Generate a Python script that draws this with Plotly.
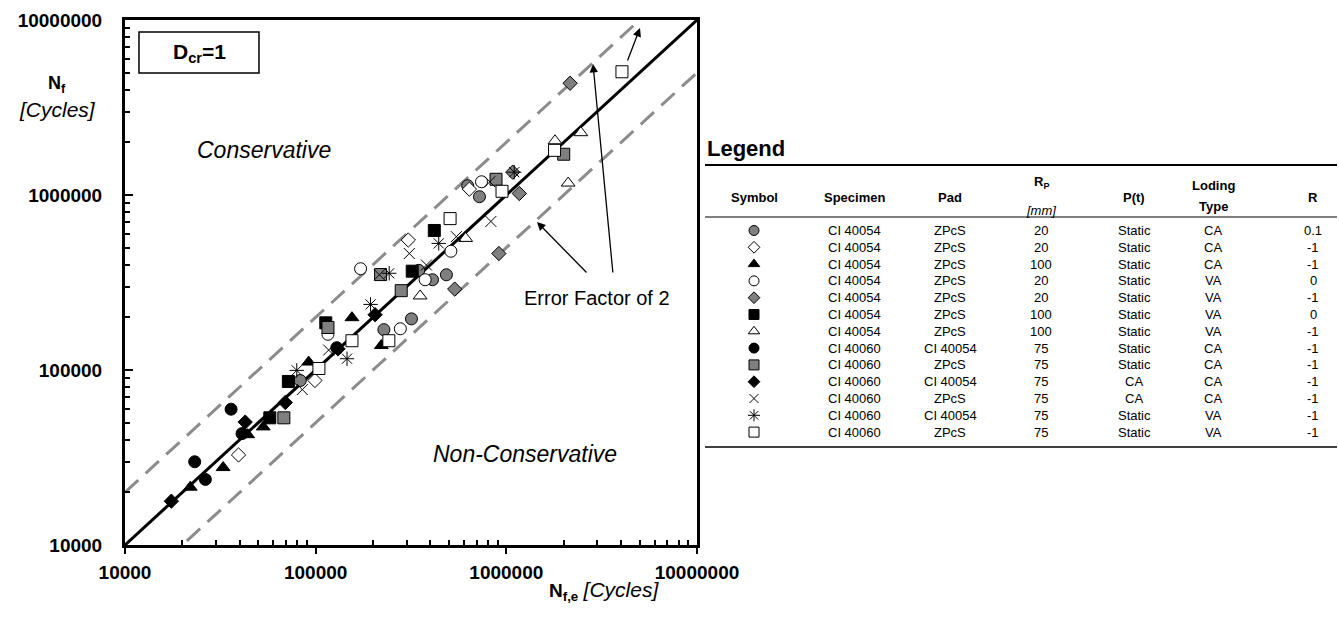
import plotly.graph_objects as go

W, H = 1339, 621
FONT = "Liberation Sans, Arial, sans-serif"

# ---------------- data ----------------
gc_x = [627000, 723000, 347000, 410000, 485000, 228000, 318000, 83000]
gc_y = [1130000, 978000, 371000, 328000, 350000, 170000, 196000, 87100]
od_x = [640000, 306000, 99100, 39400]
od_y = [1080000, 553000, 87100, 32700]
bt_x = [22000, 32700, 53100, 91900, 155000, 221000, 44000]
bt_y = [21400, 27700, 47300, 111000, 199000, 138000, 42700]
oc_x = [172000, 741000, 512000, 375000, 278000, 116000]
oc_y = [379000, 1190000, 477000, 328000, 172000, 160000]
gd_x = [2160000, 1080000, 1170000, 914000, 536000]
gd_y = [4350000, 1350000, 1020000, 463000, 290000]
bs_x = [419000, 321000, 113000, 71900, 57500]
bs_y = [627000, 367000, 186000, 86000, 53300]
ot_x = [2460000, 1800000, 2110000, 612000, 353000]
ot_y = [2270000, 2040000, 1170000, 565000, 265000]
bc_x = [36000, 23200, 26400, 41100, 129000]
bc_y = [59700, 29900, 23700, 43300, 134000]
gs_x = [2000000, 883000, 219000, 281000, 116000, 68100]
gs_y = [1710000, 1230000, 351000, 284000, 175000, 53300]
bd_x = [17500, 42700, 69300, 131000, 205000]
bd_y = [17800, 50400, 65200, 132000, 207000]
xx_x = [830000, 310000, 547000, 381000, 216000, 819000, 117000, 85100]
xx_y = [706000, 463000, 578000, 398000, 350000, 1190000, 130000, 77300]
as_x = [1100000, 442000, 243000, 194000, 146000, 79600]
as_y = [1350000, 529000, 357000, 237000, 116000, 99500]
os_x = [4040000, 1790000, 949000, 507000, 155000, 242000, 104000]
os_y = [5060000, 1800000, 1050000, 733000, 147000, 147000, 102000]

axis_min, axis_max = 1e4, 1e7
error_factor = 2
major_ticks = [1e4, 1e5, 1e6, 1e7]
tick_labels = ["10000", "100000", "1000000", "10000000"]

# legend table
specimen = ["CI 40054"] * 7 + ["CI 40060"] * 6
pad = ["ZPcS"] * 7 + ["CI 40054", "ZPcS", "CI 40054", "ZPcS", "CI 40054", "ZPcS"]
rp = ["20", "20", "100", "20", "20", "100", "100", "75", "75", "75", "75", "75", "75"]
pt = ["Static"] * 9 + ["CA", "CA", "Static", "Static"]
ltype = ["CA", "CA", "CA", "VA", "VA", "VA", "VA", "CA", "CA", "CA", "CA", "VA", "VA"]
rr = ["0.1", "-1", "-1", "0", "-1", "0", "-1", "-1", "-1", "-1", "-1", "-1", "-1"]

GRAY = "#7f7f7f"
# style per series: (symbol, fill, line color, line width, size)
series = [
    (gc_x, gc_y, "circle", GRAY, "black", 1, 12),
    (od_x, od_y, "diamond", "white", "black", 1, 11),
    (bt_x, bt_y, "triangle-up", "black", "black", 1, 12),
    (oc_x, oc_y, "circle", "white", "black", 1, 12),
    (gd_x, gd_y, "diamond", GRAY, "black", 1, 11),
    (bs_x, bs_y, "square", "black", "black", 1, 12),
    (ot_x, ot_y, "triangle-up", "white", "black", 1, 12),
    (bc_x, bc_y, "circle", "black", "black", 1, 12),
    (gs_x, gs_y, "square", GRAY, "black", 1, 12),
    (bd_x, bd_y, "diamond", "black", "black", 1, 11),
    (xx_x, xx_y, "x-thin-open", "black", "black", 1, 11),
    (as_x, as_y, "asterisk-open", "black", "black", 1, 12),
    (os_x, os_y, "square", "white", "black", 1, 12),
]

fig = go.Figure()

# reference lines
lx = [axis_min, axis_max]
for f in (error_factor, 1 / error_factor):
    fig.add_trace(go.Scatter(x=lx, y=[v * f for v in lx], mode="lines",
                             line=dict(color="#8c8c8c", width=3, dash="18px,10px"),
                             hoverinfo="skip", showlegend=False))
fig.add_trace(go.Scatter(x=lx, y=lx, mode="lines", line=dict(color="black", width=3),
                         hoverinfo="skip", showlegend=False))

for (sx, sy, sym, fill, lc, lw, sz) in series:
    fig.add_trace(go.Scatter(x=sx, y=sy, mode="markers", showlegend=False,
                             marker=dict(symbol=sym, color=fill, size=sz,
                                         line=dict(color=lc, width=lw))))

# ---------------- table via pixel axes ----------------
cols = [754, 854, 950, 1041, 1134, 1213, 1313]
row0, drow = 230.5, 16.8
row_y = [row0 + i * drow for i in range(len(specimen))]

for i, (sx, sy, sym, fill, lc, lw, sz) in enumerate(series):
    fig.add_trace(go.Scatter(x=[cols[0]], y=[row_y[i]], xaxis="x2", yaxis="y2",
                             mode="markers", showlegend=False,
                             marker=dict(symbol=sym, color=fill, size=sz - 2,
                                         line=dict(color=lc, width=lw))))

ann = []
def txt(x, y, s, size=13, xanchor="center"):
    ann.append(dict(x=x, y=y, xref="x2", yref="y2", text=s, showarrow=False,
                    xanchor=xanchor, yanchor="middle",
                    font=dict(family=FONT, size=size, color="black")))

for i in range(len(specimen)):
    y = row_y[i]
    txt(cols[1], y, specimen[i])
    txt(cols[2], y, pad[i])
    txt(cols[3], y, rp[i])
    txt(cols[4], y, pt[i])
    txt(cols[5], y, ltype[i])
    txt(cols[6], y, rr[i])

hy = 197
txt(cols[0], hy, "<b>Symbol</b>")
txt(cols[1], hy, "<b>Specimen</b>")
txt(cols[2], hy, "<b>Pad</b>")
txt(cols[3], 182, "<b>R<sub>P</sub></b>")
txt(cols[3], 210, "<i>[mm]</i>")
txt(cols[4], hy, "<b>P(t)</b>")
txt(cols[5], 185, "<b>Loding</b>")
txt(cols[5], 206, "<b>Type</b>")
txt(cols[6], hy, "<b>R</b>")
txt(705, 148, "<b>Legend</b>", size=22, xanchor="left")

# chart texts
txt(264, 150, "<i>Conservative</i>", size=23)
txt(525, 454, "<i>Non-Conservative</i>", size=23)
txt(597, 298, "Error Factor of 2", size=20)
txt(199, 53, "<b>D<sub>cr</sub>=1</b>", size=21)
txt(57, 84, "<b>N<sub>f</sub></b>", size=18)
txt(57, 109, "<i>[Cycles]</i>", size=21)
txt(604, 591, "<b>N<sub>f,e</sub></b> <i><span style='font-size:21px'>[Cycles]</span></i>", size=19)

# arrows (pixel coordinates)
for (hx, hy_, tx, ty) in [(537, 222, 588, 274), (593, 64, 613, 274), (640, 28, 627, 62)]:
    ann.append(dict(x=hx, y=hy_, ax=tx, ay=ty, xref="x2", yref="y2", axref="x2", ayref="y2",
                    showarrow=True, arrowhead=2, arrowsize=1.3, arrowwidth=1.3,
                    arrowcolor="black", text=""))

shapes = [
    dict(type="rect", xref="x2", yref="y2", x0=139, x1=259, y0=32, y1=73,
         line=dict(color="black", width=1.5), fillcolor="white", layer="below"),
    dict(type="line", xref="x2", yref="y2", x0=705, x1=1337, y0=165, y1=165,
         line=dict(color="black", width=2)),
    dict(type="line", xref="x2", yref="y2", x0=705, x1=1337, y0=217, y1=217,
         line=dict(color="black", width=1)),
    dict(type="line", xref="x2", yref="y2", x0=705, x1=1337, y0=447, y1=447,
         line=dict(color="black", width=1.5)),
]

minor_vals = [k * 10 ** e for e in range(4, 7) for k in range(2, 10)]

axis_common = dict(
    type="log", range=[4, 7], showgrid=False, zeroline=False,
    showline=True, linecolor="black", linewidth=3, mirror=True,
    tickvals=major_ticks, ticktext=["<b>%s</b>" % t for t in tick_labels],
    tickfont=dict(family=FONT, size=19, color="black"),
    tickcolor="black", tickwidth=2,
)

fig.update_layout(
    width=W, height=H,
    margin=dict(l=0, r=0, t=0, b=0, autoexpand=False),
    paper_bgcolor="white", plot_bgcolor="rgba(0,0,0,0)",
    showlegend=False,
    xaxis=dict(**axis_common, domain=[125 / W, 697 / W], anchor="y",
               ticks="outside", ticklen=6, ticklabelstandoff=2,
               minor=dict(tickvals=minor_vals, ticks="inside", ticklen=5,
                          tickcolor="black", tickwidth=2)),
    yaxis=dict(**axis_common, domain=[76 / H, 601 / H], anchor="x",
               ticks="inside", ticklen=8, ticklabelstandoff=16,
               minor=dict(tickvals=minor_vals, ticks="inside", ticklen=5,
                          tickcolor="black", tickwidth=2)),
    xaxis2=dict(domain=[0, 1], range=[0, W], visible=False, fixedrange=True, anchor="y2"),
    yaxis2=dict(domain=[0, 1], range=[H, 0], visible=False, fixedrange=True, anchor="x2"),
    annotations=ann, shapes=shapes,
    font=dict(family=FONT),
)

fig.write_html("out.html")
